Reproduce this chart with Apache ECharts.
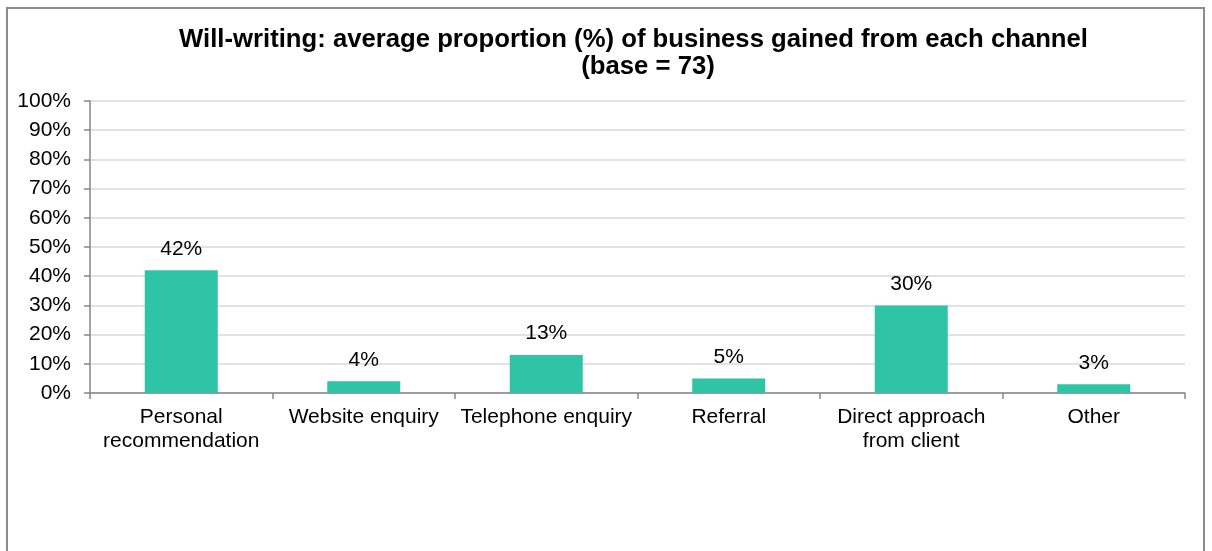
<!DOCTYPE html>
<html>
<head>
<meta charset="utf-8">
<script src="https://cdn.jsdelivr.net/npm/echarts@6/dist/echarts.min.js"></script>
<style>
  html, body { margin: 0; padding: 0; background: #fff; }
  #frame { position: absolute; left: 6px; top: 7px; width: 1199px; height: 560px;
           border: 2px solid #8c8c8c; border-bottom: none; box-sizing: border-box; }
  #chart { position: absolute; left: 0; top: 0; width: 1212px; height: 551px; }
</style>
</head>
<body>
<div id="frame"></div>
<div id="chart"></div>
<script>
// Will-writing business channels: average share of business (%)
const categories = ['Personal\nrecommendation', 'Website enquiry', 'Telephone enquiry', 'Referral', 'Direct approach\nfrom client', 'Other'];
const shares = [42, 4, 13, 5, 30, 3];
const yTicks = [0, 10, 20, 30, 40, 50, 60, 70, 80, 90, 100];
const titleLines = ['Will-writing: average proportion (%) of business gained from each channel', '(base = 73)'];

const font = '"Liberation Sans", Arial, sans-serif';
const titleStyle = { fontFamily: font, fontSize: 25.7, fontWeight: 'bold', color: '#000', lineHeight: 27 };
const chart = echarts.init(document.getElementById('chart'), null, { renderer: 'canvas' });

chart.setOption({
  animation: false,
  title: [
    { text: titleLines[0], left: 628.5, top: 21, textAlign: 'center', textStyle: titleStyle },
    { text: titleLines[1], left: 643, top: 48, textAlign: 'center', textStyle: titleStyle }
  ],
  grid: { left: 90, right: 27, top: 101, bottom: 158, containLabel: false },
  xAxis: {
    type: 'category',
    data: categories,
    axisLine: { lineStyle: { color: '#868686', width: 1.5 } },
    axisTick: { show: true, alignWithLabel: false, length: 6, lineStyle: { color: '#868686', width: 1.5 } },
    axisLabel: { fontFamily: font, fontSize: 21, color: '#000', margin: 12, lineHeight: 24, interval: 0 }
  },
  yAxis: {
    type: 'value',
    min: yTicks[0],
    max: yTicks[yTicks.length - 1],
    interval: 10,
    axisLine: { show: true, lineStyle: { color: '#868686', width: 1.5 } },
    axisTick: { show: true, length: 6, lineStyle: { color: '#868686', width: 1.5 } },
    axisLabel: { fontFamily: font, fontSize: 21, color: '#000', margin: 19, formatter: v => v + '%' },
    splitLine: { lineStyle: { color: '#d9d9d9', width: 1.5 } }
  },
  series: [{
    type: 'bar',
    data: shares,
    barWidth: '40%',
    itemStyle: { color: '#2ec4a5' },
    label: {
      show: true,
      position: 'top',
      distance: 11,
      fontFamily: font,
      fontSize: 21,
      color: '#000',
      formatter: p => p.value + '%'
    }
  }]
});
</script>
</body>
</html>
